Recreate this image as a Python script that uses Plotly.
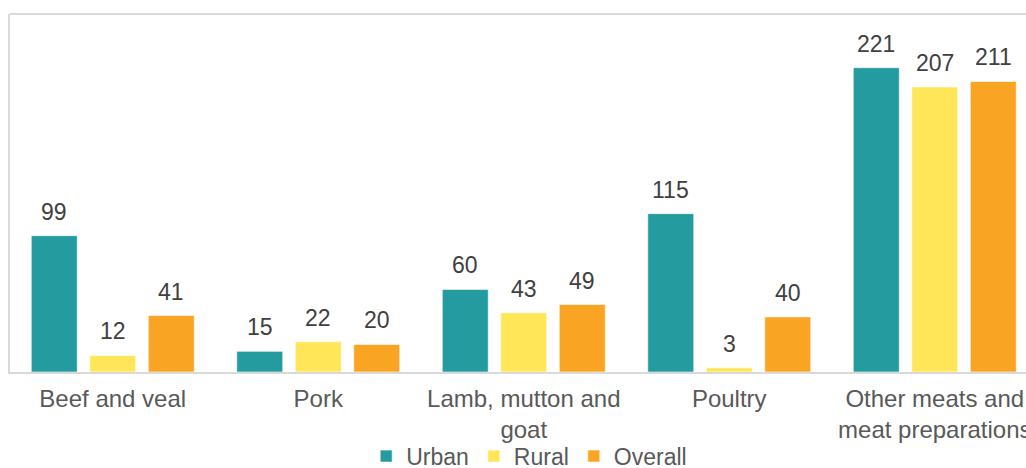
import plotly.graph_objects as go

# Meat categories and values per series
categories = ["Beef and veal", "Pork", "Lamb, mutton and<br>goat", "Poultry",
              "Other meats and<br>meat preparations"]
urban = [99, 15, 60, 115, 221]
rural = [12, 22, 43, 3, 207]
overall = [41, 20, 49, 40, 211]

series = [("Urban", urban, "#239B9F"),
          ("Rural", rural, "#FFE558"),
          ("Overall", overall, "#FAA424")]

W, H = 1026, 468
ML, MR, MT, MB = 10, 0, 14, 96
BARGAP, GROUPGAP = 0.146, 0.214
X_RANGE = [-0.5, 4.444]
Y_RANGE = [0, 260]

FONT = "Arial, Liberation Sans, sans-serif"

fig = go.Figure()
for name, vals, color in series:
    fig.add_trace(go.Bar(
        name=name, x=categories, y=vals,
        marker=dict(color=color, line=dict(color="rgba(255,255,255,0.6)", width=1)),
        hoverinfo="x+y+name",
    ))

# value labels above each bar, shifted to the bar's slot within its group
plot_w = W - ML - MR
slot_px = plot_w / (X_RANGE[1] - X_RANGE[0])
bar_slot = (1 - BARGAP) * slot_px / len(series)
for i, (name, vals, color) in enumerate(series):
    dx = (i - (len(series) - 1) / 2) * bar_slot
    for cat, v in zip(categories, vals):
        fig.add_annotation(
            x=cat, y=v, text=str(v), showarrow=False,
            xshift=dx, yshift=9, yanchor="bottom",
            font=dict(family=FONT, size=23, color="#404040"),
        )

# top border of the plot frame
fig.add_shape(type="line", xref="paper", yref="paper", x0=0, x1=1, y0=1, y1=1,
              line=dict(color="#D9D9D9", width=2))

fig.update_layout(
    width=W, height=H,
    margin=dict(l=ML, r=MR, t=MT, b=MB, autoexpand=False),
    paper_bgcolor="white", plot_bgcolor="white",
    barmode="group", bargap=BARGAP, bargroupgap=GROUPGAP,
    font=dict(family=FONT, color="#595959"),
    showlegend=True,
    legend=dict(orientation="h", x=0.511, xanchor="center", y=-0.235, yanchor="middle",
                font=dict(family=FONT, size=23, color="#595959"),
                itemwidth=30, tracegroupgap=0, bgcolor="rgba(0,0,0,0)"),
    xaxis=dict(range=X_RANGE, showgrid=False, zeroline=False,
               showline=True, linecolor="#D9D9D9", linewidth=2,
               ticks="", tickfont=dict(family=FONT, size=24, color="#595959"),
               ticklabelstandoff=4, automargin=False),
    yaxis=dict(range=Y_RANGE, showgrid=False, zeroline=False, showticklabels=False,
               showline=True, linecolor="#D9D9D9", linewidth=2, ticks="",
               automargin=False),
)

fig.write_html("out.html")
